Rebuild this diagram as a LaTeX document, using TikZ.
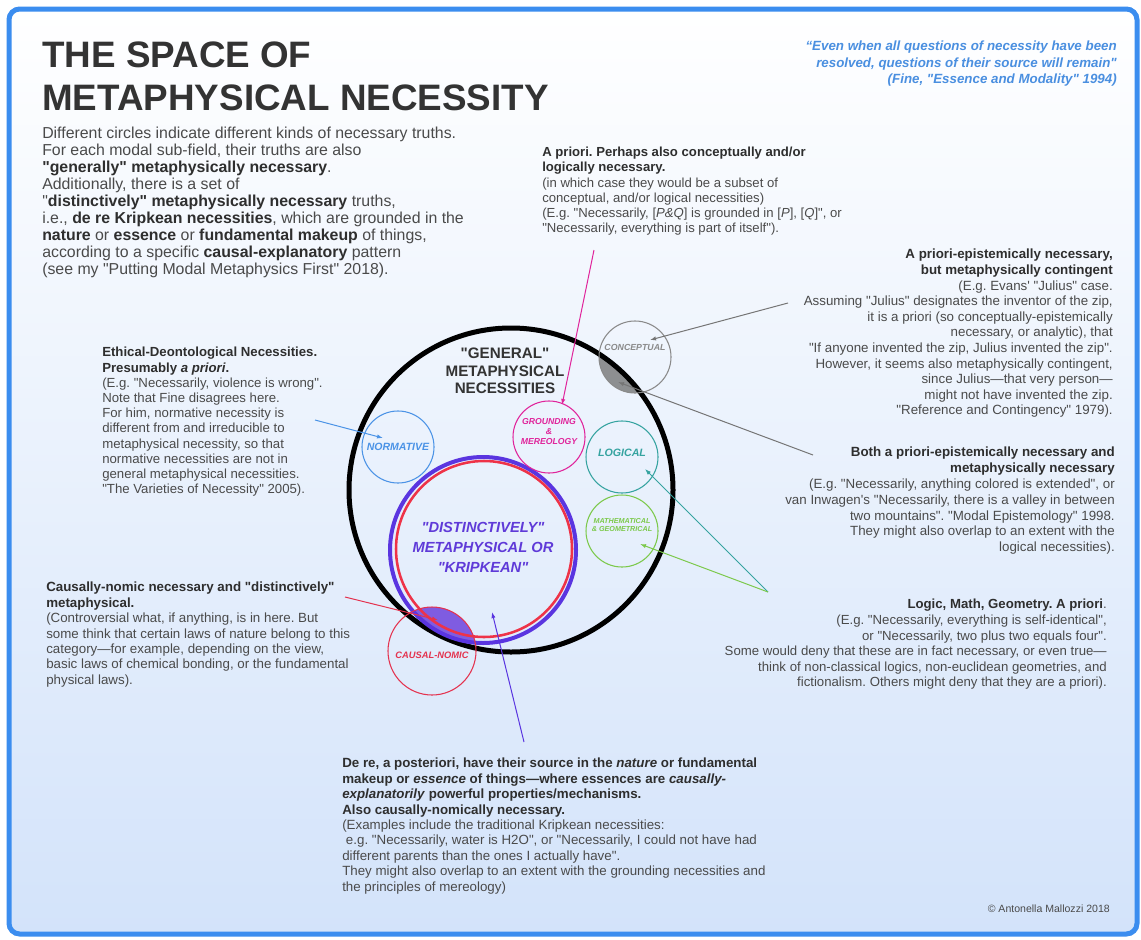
\documentclass[tikz,border=0pt]{standalone}
\usepackage{fontspec}
\setmainfont{Liberation Sans}[Ligatures=TeXOff]
\usetikzlibrary{arrows.meta}
\definecolor{textc}{HTML}{4A4A4A}
\definecolor{darkc}{HTML}{2E2E2E}
\definecolor{titlec}{HTML}{333333}
\definecolor{quotec}{HTML}{4A8FE0}
\definecolor{framec}{HTML}{3B8DEF}
\definecolor{bgtop}{HTML}{FFFFFF}
\definecolor{bgbot}{HTML}{D3E3FA}
\definecolor{normc}{HTML}{4B93E6}
\definecolor{groundc}{HTML}{E0249B}
\definecolor{conceptc}{HTML}{8A8A8A}
\definecolor{logicc}{HTML}{35A3A0}
\definecolor{mathc}{HTML}{7CC94B}
\definecolor{causalc}{HTML}{E4334F}
\definecolor{distblue}{HTML}{5A35E0}
\definecolor{distred}{HTML}{EE3348}
\definecolor{disttext}{HTML}{5F3AD8}
\definecolor{overlapP}{HTML}{7A55E0}
\definecolor{lensgray}{HTML}{6E6E6E}
\newcommand\hb[1]{{\color{darkc}\bfseries #1}}
\begin{document}
\frenchspacing
\begin{tikzpicture}[x=0.75pt,y=-0.75pt,
  circ/.style={circle,inner sep=0pt,outer sep=0pt,line width=0.8pt},
  txt/.style={inner sep=0pt,text=textc},
  lbl/.style={inner sep=0pt,align=center},
  conn/.style={line width=0.75pt,-{Latex[length=4.5pt,width=3.2pt]}}]
\useasboundingbox (0,0) rectangle (1141,939);
\fill[white] (0,0) rectangle (1141,939);
\shade[top color=bgtop,bottom color=bgbot,rounded corners=8pt] (9,9) rectangle (1137,934);
\draw[framec,line width=3.75pt,rounded corners=8pt] (9,9) rectangle (1137,934);

% centres
\coordinate (cBig) at (511,490);
\coordinate (cDist) at (483,550);
\coordinate (cConc) at (635,357);
\coordinate (cCaus) at (432,651);

% overlaps
\begin{scope}
  \clip (cConc) circle (27pt);
  \fill[lensgray,opacity=0.75] (cBig) circle (121.5pt);
\end{scope}
\begin{scope}
  \clip (cCaus) circle (33pt);
  \fill[overlapP,opacity=0.95] (cDist) circle (69.75pt);
\end{scope}

% circles
\node[circ,draw=black,line width=3.75pt,minimum size=243pt] (big) at (cBig) {};
\node[circ,draw=distblue,line width=3pt,minimum size=139.5pt] (dist) at (cDist) {};
\node[circ,draw=distred,line width=1.9pt,minimum size=132pt] (distr) at (484,549) {};
\node[circ,draw=normc,minimum size=54pt] (norm) at (398,447) {};
\node[circ,draw=groundc,minimum size=54pt] (ground) at (549,437) {};
\node[circ,draw=conceptc,minimum size=54pt] (conc) at (cConc) {};
\node[circ,draw=logicc,minimum size=54pt] (logic) at (622,457) {};
\node[circ,draw=mathc,minimum size=54pt] (math) at (622,531) {};
\node[circ,draw=causalc,minimum size=66pt] (caus) at (cCaus) {};

% circle labels
\node[lbl,text=titlec,font=\fontsize{11.4}{13.2}\selectfont\bfseries] (genl) at (505,371) {"GENERAL"\\METAPHYSICAL\\NECESSITIES};
\node[lbl,text=disttext,font=\fontsize{11}{15}\selectfont\bfseries\itshape] (distl) at (483,547) {"DISTINCTIVELY"\\METAPHYSICAL OR\\"KRIPKEAN"};
\node[lbl,text=normc,font=\fontsize{7.9}{9}\selectfont\bfseries\itshape] (norml) at (398,447) {NORMATIVE};
\node[lbl,text=groundc,font=\fontsize{6.5}{7.5}\selectfont\bfseries\itshape] (groundl) at (549,432) {GROUNDING\\\&\\MEREOLOGY};
\node[lbl,text=conceptc,font=\fontsize{6.6}{8}\selectfont\bfseries\itshape] (concl) at (635,347) {CONCEPTUAL};
\node[lbl,text=logicc,font=\fontsize{8}{9}\selectfont\bfseries\itshape] (logicl) at (622,453) {LOGICAL};
\node[lbl,text=mathc,font=\fontsize{5.4}{6.2}\selectfont\bfseries\itshape] (mathl) at (622,525) {MATHEMATICAL\\\& GEOMETRICAL};
\node[lbl,text=causalc,font=\fontsize{7}{8}\selectfont\bfseries\itshape] (causl) at (432,655) {CAUSAL-NOMIC};

% title and texts
\node[anchor=north west,inner sep=0pt,text=titlec,align=left,font=\fontsize{27.6}{32.25}\selectfont\bfseries] (title) at (42,42) {THE SPACE OF\\METAPHYSICAL NECESSITY};
\node[anchor=north east,inner sep=0pt,text=quotec,align=right,font=\fontsize{10}{12.4}\selectfont\bfseries\itshape] (quote) at (1117,41) {“Even when all questions of necessity have been\\resolved, questions of their source will remain"\\(Fine, "Essence and Modality" 1994)};
\node[txt,anchor=north west,align=left,font=\fontsize{11.9}{12.75}\selectfont] (intro) at (42,127) {Different circles indicate different kinds of necessary truths.\\For each modal sub-field, their truths are also\\\hb{"generally" metaphysically necessary}.\\Additionally, there is a set of\\"\hb{distinctively" metaphysically necessary} truths,\\i.e., \hb{de re Kripkean necessities}, which are grounded in the\\\hb{nature} or \hb{essence} or \hb{fundamental makeup} of things,\\according to a specific \hb{causal-explanatory} pattern\\(see my "Putting Modal Metaphysics First" 2018).};
\node[txt,anchor=north west,align=left,font=\fontsize{9.85}{11.4}\selectfont] (apriori) at (542,147) {\hb{A priori. Perhaps also conceptually and/or}\\\hb{logically necessary.}\\(in which case they would be a subset of\\conceptual, and/or logical necessities)\\(E.g. "Necessarily, [\textit{P\&Q}] is grounded in [\textit{P}], [\textit{Q}]", or\\"Necessarily, everything is part of itself").};
\node[txt,anchor=north east,align=right,font=\fontsize{10}{11.7}\selectfont] (julius) at (1113,249) {\hb{A priori-epistemically necessary,}\\\hb{but metaphysically contingent}\\(E.g. Evans' "Julius" case.\\Assuming "Julius" designates the inventor of the zip,\\it is a priori (so conceptually-epistemically\\necessary, or analytic), that\\"If anyone invented the zip, Julius invented the zip".\\However, it seems also metaphysically contingent,\\since Julius—that very person—\\might not have invented the zip.\\"Reference and Contingency" 1979).};
\node[txt,anchor=north west,align=left,font=\fontsize{9.9}{11.4}\selectfont] (ethical) at (102,347) {\hb{Ethical-Deontological Necessities.}\\\hb{Presumably \textit{a priori}.}\\(E.g. "Necessarily, violence is wrong".\\Note that Fine disagrees here.\\For him, normative necessity is\\different from and irreducible to\\metaphysical necessity, so that\\normative necessities are not in\\general metaphysical necessities.\\"The Varieties of Necessity" 2005).};
\node[txt,anchor=north east,align=right,font=\fontsize{10}{11.85}\selectfont] (both) at (1115,447) {\hb{Both a priori-epistemically necessary and}\\\hb{metaphysically necessary}\\(E.g. "Necessarily, anything colored is extended", or\\van Inwagen's "Necessarily, there is a valley in between\\two mountains". "Modal Epistemology" 1998.\\They might also overlap to an extent with the\\logical necessities).};
\node[txt,anchor=north west,align=left,font=\fontsize{10}{11.55}\selectfont] (causal) at (46,582) {\hb{Causally-nomic necessary and "distinctively"}\\\hb{metaphysical.}\\(Controversial what, if anything, is in here. But\\some think that certain laws of nature belong to this\\category—for example, depending on the view,\\basic laws of chemical bonding, or the fundamental\\physical laws).};
\node[txt,anchor=north east,align=right,font=\fontsize{9.9}{11.7}\selectfont] (logicmath) at (1107,599) {\hb{Logic, Math, Geometry. A priori}.\\(E.g. "Necessarily, everything is self-identical",\\or "Necessarily, two plus two equals four".\\Some would deny that these are in fact necessary, or even true—\\think of non-classical logics, non-euclidean geometries, and\\fictionalism. Others might deny that they are a priori).};
\node[txt,anchor=north west,align=left,font=\fontsize{10}{11.55}\selectfont] (dere) at (342,758) {\hb{De re, a posteriori, have their source in the \textit{nature} or fundamental}\\\hb{makeup or \textit{essence} of things—where essences are \textit{causally-}}\\\hb{\textit{explanatorily} powerful properties/mechanisms.}\\\hb{Also causally-nomically necessary.}\\(Examples include the traditional Kripkean necessities:\\\ e.g. "Necessarily, water is H2O", or "Necessarily, I could not have had\\different parents than the ones I actually have".\\They might also overlap to an extent with the grounding necessities and\\the principles of mereology)};
\node[inner sep=0pt,anchor=east,text=textc,font=\fontsize{7.9}{9}\selectfont] (copy) at (1110,909) {© Antonella Mallozzi 2018};

% connector ends
\coordinate (gS) at (594,250);   \coordinate (gE) at (562,405);
\coordinate (cS) at (788,303);   \coordinate (cE) at (650,340);
\coordinate (bS) at (813,455);   \coordinate (bE) at (618,382);
\coordinate (lS) at (768,592);   \coordinate (lE) at (645,469);
\coordinate (mE) at (640,544);
\coordinate (nS) at (315,420);   \coordinate (nE) at (383,438);
\coordinate (kS) at (345,597);   \coordinate (kE) at (438,620);
\coordinate (dS) at (524,742);   \coordinate (dE) at (492,612);

\draw[conn,conceptc!85!black] (cS) -- (cE);
\draw[conn,conceptc!85!black] (bS) -- (bE);
\draw[conn,groundc] (gS) -- (gE);
\draw[conn,logicc] (lS) -- (lE);
\draw[conn,mathc] (lS) -- (mE);
\draw[conn,normc] (nS) -- (nE);
\draw[conn,causalc] (kS) -- (kE);
\draw[conn,distblue] (dS) -- (dE);
\end{tikzpicture}
\end{document}
